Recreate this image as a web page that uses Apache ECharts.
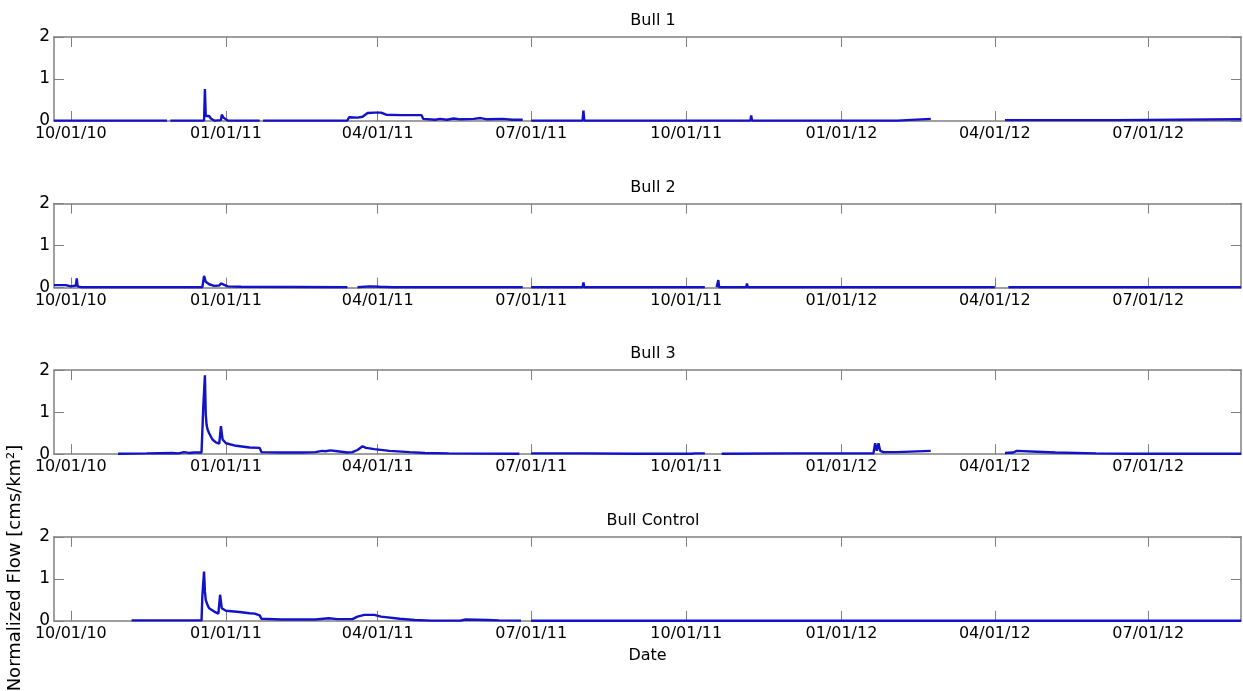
<!DOCTYPE html>
<html>
<head>
<meta charset="utf-8">
<script src="https://cdn.jsdelivr.net/npm/echarts@6/dist/echarts.min.js"></script>
<style>
  html, body { margin: 0; padding: 0; background: #fff; }
  #chart { width: 1243px; height: 691px; }
</style>
</head>
<body>
<div id="chart"></div>
<script>
// panel titles + axis texts
const panelTitles = ['Bull 1', 'Bull 2', 'Bull 3', 'Bull Control']
const yLabel = 'Normalized Flow [cms/km²]'
const xLabel = 'Date'

// x range and tick dates (quarterly)
const xStart = '2010-09-21'
const xEnd = '2012-08-25'
const tickDates = ['2010-10-01', '2011-01-01', '2011-04-01', '2011-07-01',
  '2011-10-01', '2012-01-01', '2012-04-01', '2012-07-01']

// flow series, [date, value], null = missing data (gap)
const bull1 = [
  ['2010-09-21', 0.01], ['2010-11-27', 0.01], ['2010-11-28', null], ['2010-11-29', 0.01],
  ['2010-12-19', 0.01], ['2010-12-19T12', 0.76], ['2010-12-20', 0.12], ['2010-12-21', 0.1],
  ['2010-12-22', 0.12], ['2010-12-23', 0.06], ['2010-12-24', 0.1], ['2010-12-25', 0.01],
  ['2010-12-29', 0.02], ['2010-12-29T12', 0.15], ['2010-12-30T12', 0.08], ['2010-12-31', 0.04],
  ['2011-01-02', 0.01], ['2011-01-21', 0.01], ['2011-01-22', null], ['2011-01-23', 0.01],
  ['2011-03-14', 0.01], ['2011-03-15', 0.09], ['2011-03-20', 0.08], ['2011-03-23', 0.1],
  ['2011-03-26', 0.19], ['2011-03-30', 0.2], ['2011-04-03', 0.2], ['2011-04-06', 0.15],
  ['2011-04-15', 0.14], ['2011-04-27', 0.14], ['2011-04-28', 0.05], ['2011-05-05', 0.03],
  ['2011-05-08', 0.05], ['2011-05-12', 0.03], ['2011-05-16', 0.06], ['2011-05-20', 0.04],
  ['2011-05-28', 0.05], ['2011-06-01', 0.07], ['2011-06-05', 0.04], ['2011-06-14', 0.05],
  ['2011-06-20', 0.03], ['2011-06-26', 0.03], ['2011-06-27', null], ['2011-07-01', 0.01],
  ['2011-07-31T12', 0.01], ['2011-08-01', 0.25], ['2011-08-01T12', 0.01],
  ['2011-09-22', 0.01], ['2011-09-22T12', 0.04], ['2011-09-23', 0.01],
  ['2011-11-08', 0.01], ['2011-11-08T12', 0.13], ['2011-11-09', 0.01],
  ['2012-01-24', 0.01], ['2012-01-24T12', 0.03], ['2012-01-25', 0.01],
  ['2012-02-03', 0.01], ['2012-02-04', 0.05], ['2012-02-23', 0.05], ['2012-02-24', null],
  ['2012-04-07', 0.02], ['2012-06-12', 0.02], ['2012-06-13', 0.04], ['2012-08-25', 0.04]
]
const bull2 = [
  ['2010-09-21', 0.06], ['2010-09-28', 0.06], ['2010-09-29', 0.03], ['2010-10-01', 0.03],
  ['2010-10-02', 0.06], ['2010-10-04', 0.05], ['2010-10-04T12', 0.22], ['2010-10-05', 0.03],
  ['2010-10-07', 0.01], ['2010-12-18', 0.01], ['2010-12-19', 0.28], ['2010-12-20', 0.14],
  ['2010-12-22', 0.08], ['2010-12-25', 0.04], ['2010-12-28', 0.05], ['2010-12-29', 0.1],
  ['2010-12-30', 0.07], ['2011-01-02', 0.03], ['2011-01-10', 0.02],
  ['2011-03-14', 0.01], ['2011-03-15', null], ['2011-03-20', 0.01], ['2011-03-27', 0.03],
  ['2011-04-02', 0.02], ['2011-04-10', 0.01], ['2011-06-26', 0.01], ['2011-06-27', null],
  ['2011-07-01', 0.01], ['2011-07-31T12', 0.01], ['2011-08-01', 0.12], ['2011-08-01T12', 0.01],
  ['2011-10-12', 0.01], ['2011-10-13', null], ['2011-10-19', 0.01], ['2011-10-20', 0.18],
  ['2011-10-20T12', 0.01], ['2011-11-05T12', 0.01], ['2011-11-06', 0.1], ['2011-11-06T12', 0.01],
  ['2011-12-30T12', 0.01], ['2011-12-31', 0.04], ['2011-12-31T12', 0.01],
  ['2012-04-01', 0.01], ['2012-04-02', null], ['2012-04-09', 0.01], ['2012-08-25', 0.01]
]
const bull3 = [
  ['2010-10-29', 0.01], ['2010-11-15', 0.02], ['2010-11-30', 0.03], ['2010-12-04', 0.02],
  ['2010-12-07', 0.05], ['2010-12-10', 0.03], ['2010-12-13', 0.04], ['2010-12-17T12', 0.04],
  ['2010-12-18T12', 1.1], ['2010-12-19T12', 1.88], ['2010-12-20', 0.95], ['2010-12-20T12', 0.7],
  ['2010-12-21', 0.6], ['2010-12-22', 0.5], ['2010-12-23', 0.48], ['2010-12-24', 0.35],
  ['2010-12-26', 0.28], ['2010-12-28', 0.25], ['2010-12-29', 0.67], ['2010-12-29T12', 0.5],
  ['2010-12-30', 0.35], ['2011-01-01', 0.26], ['2011-01-07', 0.2], ['2011-01-15', 0.16],
  ['2011-01-21', 0.15], ['2011-01-22', 0.05], ['2011-02-03', 0.04], ['2011-02-15', 0.04],
  ['2011-02-23', 0.05], ['2011-02-27', 0.08], ['2011-03-01', 0.07], ['2011-03-04', 0.09],
  ['2011-03-08', 0.07], ['2011-03-14', 0.04], ['2011-03-17', 0.05], ['2011-03-20', 0.1],
  ['2011-03-23', 0.19], ['2011-03-25', 0.15], ['2011-03-30', 0.12], ['2011-04-08', 0.08],
  ['2011-04-20', 0.05], ['2011-04-29', 0.03], ['2011-05-13', 0.02], ['2011-06-24', 0.01],
  ['2011-06-25', null], ['2011-07-01', 0.02], ['2011-08-01', 0.02], ['2011-09-01', 0.01],
  ['2011-10-04', 0.01], ['2011-10-05', 0.04], ['2011-10-06', 0.02], ['2011-10-12', 0.02],
  ['2011-10-13', null], ['2011-10-22', 0.01], ['2011-12-01', 0.02], ['2012-01-20', 0.02],
  ['2012-01-21', 0.26], ['2012-01-22', 0.08], ['2012-01-23', 0.26], ['2012-01-24', 0.08],
  ['2012-01-26', 0.05], ['2012-02-03', 0.05], ['2012-02-04', 0.08], ['2012-02-23', 0.08],
  ['2012-02-24', null], ['2012-04-07', 0.03], ['2012-04-12', 0.04], ['2012-04-14', 0.08],
  ['2012-04-26', 0.06], ['2012-05-07', 0.04], ['2012-05-31', 0.02], ['2012-06-24', 0.01],
  ['2012-08-25', 0.01]
]
const bullControl = [
  ['2010-11-06', 0.01], ['2010-12-17T12', 0.01], ['2010-12-18', 0.6], ['2010-12-19', 1.17],
  ['2010-12-19T12', 0.7], ['2010-12-20', 0.5], ['2010-12-21', 0.38], ['2010-12-22', 0.3],
  ['2010-12-25', 0.22], ['2010-12-27T12', 0.17], ['2010-12-28', 0.2], ['2010-12-28T12', 0.62],
  ['2010-12-29T12', 0.3], ['2011-01-01', 0.24], ['2011-01-09', 0.21], ['2011-01-15', 0.18],
  ['2011-01-18', 0.17], ['2011-01-21', 0.13], ['2011-01-22', 0.05], ['2011-02-03', 0.03],
  ['2011-02-23', 0.03], ['2011-03-03', 0.06], ['2011-03-08', 0.04], ['2011-03-17', 0.04],
  ['2011-03-20', 0.1], ['2011-03-24', 0.14], ['2011-03-30', 0.14], ['2011-04-03', 0.1],
  ['2011-04-14', 0.05], ['2011-04-23', 0.02], ['2011-05-03', 0.005], ['2011-05-20', 0.005],
  ['2011-05-23', 0.03], ['2011-06-05', 0.02], ['2011-06-12', 0.01], ['2011-06-25', 0.005],
  ['2011-06-26', null], ['2011-07-01', 0], ['2012-08-25', 0]
]
const panelData = [bull1, bull2, bull3, bullControl]

/* 'YYYY-MM-DD' or 'YYYY-MM-DDTHH' -> utc ms */
function ts(s) {
  const [d, h] = s.split('T')
  const [y, m, dd] = d.split('-').map(Number)
  return Date.UTC(y, m - 1, dd, h ? +h : 0)
}
const pad = n => (n < 10 ? '0' : '') + n
function fmtDate(v) {
  const d = new Date(v)
  return pad(d.getUTCMonth() + 1) + '/' + pad(d.getUTCDate()) + '/' + pad(d.getUTCFullYear() % 100)
}

const FONT = 'DejaVu Sans'
const AXIS_GREY = '#808080'
const LINE_BLUE = '#1212c8'
const tickTs = tickDates.map(ts)

const grids = [], xAxes = [], yAxes = [], titles = [], series = []
panelTitles.forEach((name, i) => {
  const top = 37 + i * 166.6
  grids.push({ left: 54, right: 2, top: top, height: 84 })
  titles.push({
    text: name, left: 648, top: top - 29, textAlign: 'center',
    textStyle: { fontFamily: FONT, fontSize: 16, fontWeight: 'normal', color: '#000' }
  })
  // x is a plain value axis over utc ms, ticks placed on the quarter dates
  const xBase = {
    type: 'value', gridIndex: i, min: ts(xStart), max: ts(xEnd), scale: true,
    axisLine: { show: true, onZero: false, lineStyle: { color: AXIS_GREY, width: 1.5 } },
    axisTick: { show: true, inside: true, length: 10, customValues: tickTs, lineStyle: { color: AXIS_GREY } },
    splitLine: { show: false }
  }
  xAxes.push(Object.assign({}, xBase, {
    position: 'bottom',
    axisLabel: {
      customValues: tickTs, formatter: fmtDate, margin: 5,
      fontFamily: FONT, fontSize: 16, color: '#000', showMinLabel: true, showMaxLabel: true
    },
    name: i === 3 ? xLabel : '', nameLocation: 'middle', nameGap: 27,
    nameTextStyle: { fontFamily: FONT, fontSize: 16, color: '#000' }
  }))
  xAxes.push(Object.assign({}, xBase, { position: 'top', axisLabel: { show: false } }))

  const yBase = {
    type: 'value', gridIndex: i, min: 0, max: 2, interval: 1,
    axisLine: { show: true, lineStyle: { color: AXIS_GREY, width: 1.5 } },
    axisTick: { show: true, inside: true, length: 10, lineStyle: { color: AXIS_GREY } },
    splitLine: { show: false }
  }
  yAxes.push(Object.assign({}, yBase, {
    position: 'left',
    axisLabel: { margin: 4, fontFamily: FONT, fontSize: 17, color: '#000' }
  }))
  yAxes.push(Object.assign({}, yBase, { position: 'right', axisLabel: { show: false } }))

  series.push({
    type: 'line', xAxisIndex: i * 2, yAxisIndex: i * 2,
    data: panelData[i].map(([d, v]) => [ts(d), v]),
    showSymbol: false, symbol: 'none', connectNulls: false,
    lineStyle: { color: LINE_BLUE, width: 2.4 }, z: 5
  })
})

const chart = echarts.init(document.getElementById('chart'))
chart.setOption({
  animation: false,
  backgroundColor: '#fff',
  title: titles,
  grid: grids,
  xAxis: xAxes,
  yAxis: yAxes,
  series: series,
  graphic: [{
    type: 'text', x: 15, y: 568, rotation: Math.PI / 2,
    style: {
      text: yLabel, fill: '#000', font: '18px "DejaVu Sans"',
      align: 'center', verticalAlign: 'middle'
    }
  }]
})
</script>
</body>
</html>
